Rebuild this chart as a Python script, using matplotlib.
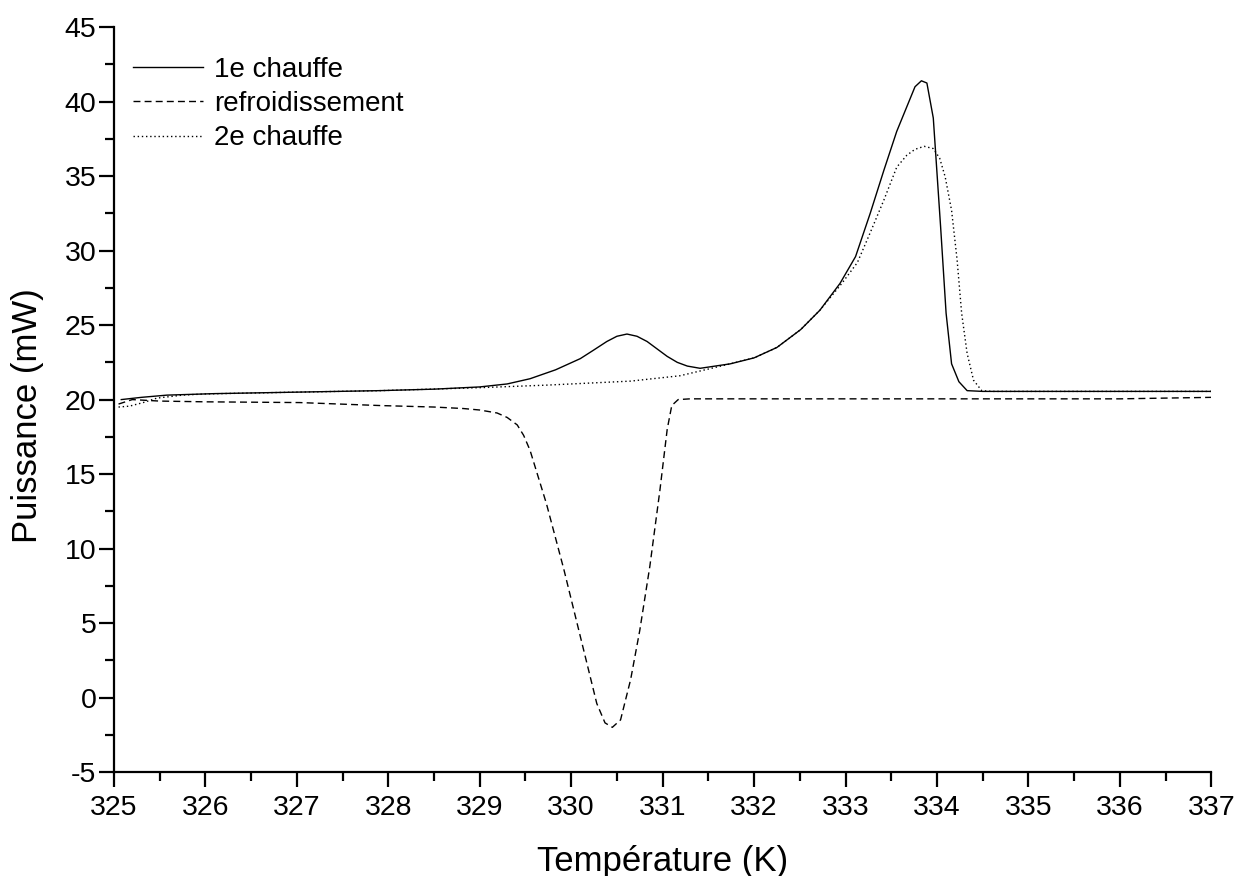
# Courbes DSC : puissance en fonction de la température

import matplotlib
matplotlib.use("Agg")
import matplotlib.pyplot as plt
from matplotlib.ticker import MultipleLocator

plt.rcParams['font.family'] = ['Liberation Sans', 'DejaVu Sans']
plt.rcParams['axes.unicode_minus'] = False

# 1e chauffe (trait plein)
T1 = [325.08, 325.3, 325.58, 326.1, 327.0, 327.9, 328.5, 329.0, 329.3, 329.55,
      329.83, 330.1, 330.24, 330.39, 330.5, 330.61, 330.72, 330.83, 330.94, 331.05,
      331.16, 331.27, 331.41, 331.63, 331.74, 332.0, 332.25, 332.51, 332.72, 332.94,
      333.11, 333.27, 333.42, 333.56, 333.68, 333.76, 333.83, 333.89, 333.96, 334.04,
      334.10, 334.16, 334.24, 334.33, 334.5, 335.0, 336.0, 337.0]
P1 = [20.0, 20.15, 20.3, 20.4, 20.5, 20.6, 20.7, 20.85, 21.05, 21.4,
      22.0, 22.75, 23.3, 23.9, 24.25, 24.4, 24.25, 23.9, 23.4, 22.9,
      22.5, 22.25, 22.1, 22.3, 22.4, 22.8, 23.5, 24.7, 26.0, 27.8,
      29.6, 32.5, 35.4, 38.0, 39.8, 41.0, 41.4, 41.25, 38.9, 31.6,
      25.8, 22.4, 21.2, 20.6, 20.55, 20.55, 20.55, 20.55]

# refroidissement (tirets)
T2 = [325.05, 325.2, 325.5, 326.0, 327.03, 327.91, 328.5, 328.82, 329.0, 329.19,
      329.3, 329.41, 329.48, 329.55, 329.73, 329.92, 330.1, 330.28, 330.37, 330.45,
      330.54, 330.65, 330.75, 330.86, 330.97, 331.05, 331.10, 331.17, 331.3, 332.0,
      334.0, 336.0, 336.5, 337.0]
P2 = [19.7, 20.0, 19.9, 19.85, 19.8, 19.6, 19.5, 19.4, 19.3, 19.1,
      18.8, 18.3, 17.6, 16.6, 13.0, 8.6, 4.1, -0.4, -1.7, -2.0,
      -1.5, 1.2, 4.5, 8.8, 13.9, 18.0, 19.6, 20.0, 20.05, 20.05,
      20.05, 20.05, 20.1, 20.15]

# 2e chauffe (pointillés)
T3 = [325.05, 325.17, 325.32, 325.47, 325.75, 326.0, 327.0, 327.91, 329.0, 329.73,
      330.65, 331.19, 331.74, 332.0, 332.25, 332.51, 332.72, 332.96, 333.13, 333.27,
      333.42, 333.56, 333.67, 333.76, 333.86, 333.96, 334.03, 334.09, 334.16, 334.22,
      334.27, 334.33, 334.40, 334.49, 334.6, 335.0, 336.0, 337.0]
P3 = [19.5, 19.56, 19.8, 20.1, 20.3, 20.38, 20.5, 20.6, 20.8, 20.97,
      21.24, 21.6, 22.4, 22.8, 23.5, 24.7, 26.0, 27.8, 29.2, 31.2,
      33.4, 35.6, 36.4, 36.8, 37.0, 36.85, 36.2, 34.95, 32.7, 29.4,
      25.8, 23.1, 21.3, 20.6, 20.55, 20.55, 20.55, 20.55]

fig = plt.figure(figsize=(12.36, 8.76), dpi=100)
ax = fig.add_axes([0.0922, 0.1187, 0.8878, 0.8503])

ax.plot(T1, P1, color='black', lw=1.0, ls='-', label='1e chauffe')
ax.plot(T2, P2, color='black', lw=1.0, ls=(0, (5, 3)), label='refroidissement')
ax.plot(T3, P3, color='black', lw=1.0, ls=(0, (1, 2)), label='2e chauffe')

ax.set_xlim(325, 337)
ax.set_ylim(-5, 45)
ax.xaxis.set_major_locator(MultipleLocator(1))
ax.xaxis.set_minor_locator(MultipleLocator(0.5))
ax.yaxis.set_major_locator(MultipleLocator(5))
ax.yaxis.set_minor_locator(MultipleLocator(2.5))

for s in ['top', 'right']:
    ax.spines[s].set_visible(False)
for s in ['left', 'bottom']:
    ax.spines[s].set_linewidth(1.6)

ax.tick_params(which='major', direction='out', length=10.5, width=1.6, labelsize=20.5)
ax.tick_params(which='minor', direction='out', length=6.5, width=1.6)
ax.tick_params(axis='x', which='major', pad=6)
ax.tick_params(axis='y', which='major', pad=2)

ax.set_xlabel('Température (K)', fontsize=25)
ax.set_ylabel('Puissance (mW)', fontsize=25)
ax.xaxis.set_label_coords(0.5, -0.098)
ax.yaxis.set_label_coords(-0.0635, 0.479)

ax.legend(loc='upper left', bbox_to_anchor=(-0.005, 0.994), frameon=False,
          fontsize=20, handlelength=2.5, handletextpad=0.4, labelspacing=0.3)

fig.savefig('out.png', dpi=100)
